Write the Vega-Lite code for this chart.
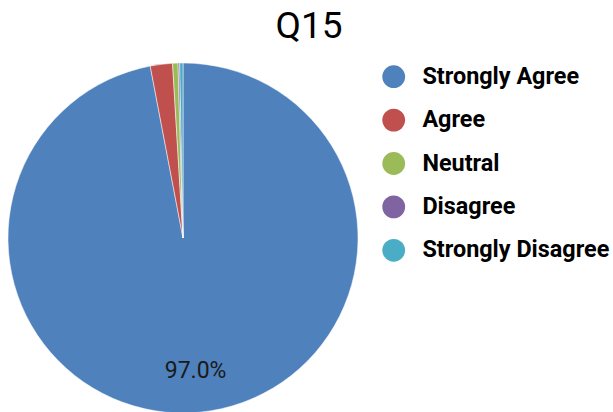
{
  "$schema": "https://vega.github.io/schema/vega-lite/v6.json",
  "width": 366,
  "height": 476,
  "autosize": "none",
  "padding": {"left": 0, "top": 0, "right": 247, "bottom": 0},
  "background": "white",
  "title": {"text": "Q15", "frame": "group", "anchor": "middle", "dx": 126, "offset": -46, "fontSize": 37, "font": "Roboto", "fontWeight": "normal", "color": "#000000"},
  "data": {"values": [
    {"answer": "Strongly Agree", "pct": 0.970, "order": 1},
    {"answer": "Agree", "pct": 0.0205, "order": 2},
    {"answer": "Neutral", "pct": 0.005, "order": 3},
    {"answer": "Disagree", "pct": 0.0015, "order": 4},
    {"answer": "Strongly Disagree", "pct": 0.003, "order": 5}
  ]},
  "encoding": {
    "theta": {"field": "pct", "type": "quantitative", "stack": true},
    "order": {"field": "order", "type": "quantitative"},
    "color": {
      "field": "answer", "type": "nominal",
      "scale": {"domain": ["Strongly Agree", "Agree", "Neutral", "Disagree", "Strongly Disagree"], "range": ["#4f81bd", "#c0504d", "#9bbb59", "#8064a2", "#4bacc6"]},
      "legend": {"title": null, "orient": "none", "legendX": 382, "legendY": 65, "symbolType": "circle", "symbolSize": 520, "symbolStrokeWidth": 0, "labelFont": "Roboto", "labelFontSize": 23.4, "labelFontWeight": "bold", "labelColor": "#000000", "labelOffset": 17, "rowPadding": 18.4, "labelLimit": 300}
    }
  },
  "layer": [
    {"mark": {"type": "arc", "outerRadius": 175, "stroke": "white", "strokeWidth": 0.5}},
    {"transform": [{"filter": "datum.pct > 0.05"}],
     "mark": {"type": "text", "radius": 134, "font": "Roboto", "fontSize": 23, "color": "#1a1a1a"},
     "encoding": {"text": {"field": "pct", "type": "quantitative", "format": ".1%"}, "color": {"value": "#1a1a1a"}}}
  ]
}
